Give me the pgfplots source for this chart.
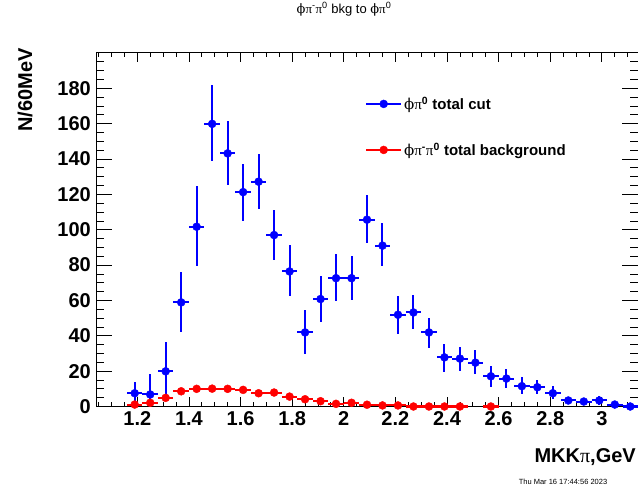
\documentclass[border=0pt]{standalone}
\usepackage{fontspec}
\setmainfont{Liberation Sans}
\newfontfamily\grk{DejaVu Serif}
\newfontfamily\sym{Liberation Serif}
\usepackage{pgfplots}
\usepackage{pgfplotstable}
\pgfplotsset{compat=1.18}
\definecolor{rblue}{RGB}{0,0,255}
\definecolor{rred}{RGB}{255,0,0}

% phi pi0 total cut: bin centre, content, error up, error down
\pgfplotstableread{
x y eyp eym
1.19 7.5 6.5 6.5
1.25 6.8 11.7 6.8
1.31 19.9 16.8 16.8
1.37 58.9 17.0 16.5
1.43 101.7 23.0 22.4
1.49 159.9 21.8 21.1
1.55 143.2 18.6 17.9
1.61 121.3 16.0 16.3
1.67 127.2 15.4 15.6
1.73 97.0 14.2 14.2
1.79 76.4 14.9 13.8
1.85 41.9 12.8 12.2
1.91 60.8 13.1 12.8
1.97 72.6 13.6 12.8
2.03 72.6 12.6 12.6
2.09 105.7 13.9 13.1
2.15 91.0 12.7 11.4
2.21 51.9 10.7 10.9
2.27 53.2 10.0 9.4
2.33 41.9 8.1 8.8
2.39 27.8 7.6 8.1
2.45 27.1 6.4 6.8
2.51 24.8 7.2 6.3
2.57 17.1 5.7 5.8
2.63 15.8 5.5 5.3
2.69 11.5 5.4 4.4
2.75 10.9 4.3 3.9
2.81 7.5 4.0 3.2
2.87 3.4 1.9 1.9
2.93 2.8 1.5 1.5
2.99 3.4 2.6 2.6
3.05 1.1 1.0 1.0
3.11 0.0 0.0 0.0
}\cutdata

% phi pi- pi0 total background
\pgfplotstableread{
x y
1.19 1.1
1.25 2.1
1.31 4.9
1.37 8.6
1.43 10.0
1.49 10.1
1.55 10.0
1.61 9.4
1.67 7.5
1.73 7.9
1.79 5.6
1.85 4.1
1.91 3.0
1.97 1.5
2.03 2.1
2.09 1.0
2.15 0.6
2.21 0.6
2.27 0
2.33 0
2.39 0
2.45 0
2.57 0
}\bkgdata

\begin{document}
\begin{tikzpicture}
\path[use as bounding box] (0,0) rectangle (638bp,498bp);
\begin{axis}[
  at={(96bp,91.5bp)}, anchor=south west,
  scale only axis, width=542bp, height=353.5bp,
  xmin=1.04, xmax=3.14, ymin=0, ymax=200,
  clip=false,
  xtick={1.2,1.4,1.6,1.8,2,2.2,2.4,2.6,2.8,3},
  minor xtick={1.05,1.1,...,3.11},
  ytick={0,20,...,180},
  minor ytick={5,10,...,195},
  tick align=inside,
  major tick length=16bp, minor tick length=8bp,
  xtick style={/pgfplots/major tick length=9.5bp, /pgfplots/minor tick length=4.5bp},
  tick style={black, line width=0.8bp},
  axis line style={black, line width=1bp},
  /pgf/number format/assume math mode=true,
  ticklabel style={font=\fontsize{20bp}{24bp}\selectfont\bfseries},
  xticklabel style={inner sep=0pt, yshift=-5bp},
  yticklabel style={inner sep=0pt, xshift=-5bp},
  xlabel={MKK{\sym\mdseries π},GeV},
  xlabel style={at={(axis description cs:0.9963,-0.118)}, anchor=north east, inner sep=0pt,
    font=\fontsize{20bp}{24bp}\selectfont\bfseries},
  ylabel={N/60MeV},
  ylabel style={at={(axis description cs:-0.131,1.014)}, anchor=east, inner sep=0pt,
    font=\fontsize{20bp}{24bp}\selectfont\bfseries},
  title={{\grk ϕ}{\sym π}\textsuperscript{-}{\sym π}\textsuperscript{0} bkg to {\grk ϕ}{\sym π}\textsuperscript{0}},
  title style={at={(axis description cs:0.4576,1.127)}, anchor=north, inner sep=0pt,
    font=\fontsize{13bp}{15bp}\selectfont},
  legend style={draw=none, fill=none, at={(axis description cs:0.4963,0.882)}, anchor=north west,
    font=\fontsize{15bp}{18bp}\selectfont\bfseries, row sep=28bp, inner sep=0pt,
    /tikz/every even column/.append style={column sep=5bp}},
  legend cell align=left,
]
\addplot+[only marks, color=rblue, mark=*, mark size=4bp, mark options={draw=rblue, fill=rblue},
  legend image code/.code={
    \draw[rblue, line width=2bp] (0bp,0bp) -- (35bp,0bp);
    \fill[rblue] (17.5bp,0bp) circle (4bp);
  },
  error bars/.cd, x dir=both, x fixed=0.03, y dir=both, y explicit, error mark=none,
  error bar style={line width=2bp, rblue}]
  table[x=x, y=y, y error plus=eyp, y error minus=eym] {\cutdata};
\addlegendentry{{\grk\mdseries ϕ}{\sym\mdseries π}\textsuperscript{0} total cut}
\addplot+[only marks, color=rred, mark=*, mark size=4bp, mark options={draw=rred, fill=rred},
  legend image code/.code={
    \draw[rred, line width=2bp] (0bp,0bp) -- (35bp,0bp);
    \fill[rred] (17.5bp,0bp) circle (4bp);
  },
  error bars/.cd, x dir=both, x fixed=0.03, error mark=none,
  error bar style={line width=2bp, rred}]
  table[x=x, y=y] {\bkgdata};
\addlegendentry{{\grk\mdseries ϕ}{\sym\mdseries π}\textsuperscript{-}{\sym\mdseries π}\textsuperscript{0} total background}
\end{axis}
\node[font=\fontsize{7.5bp}{9bp}\selectfont] at (563bp,16bp) {Thu Mar 16 17:44:56 2023};
\end{tikzpicture}
\end{document}
